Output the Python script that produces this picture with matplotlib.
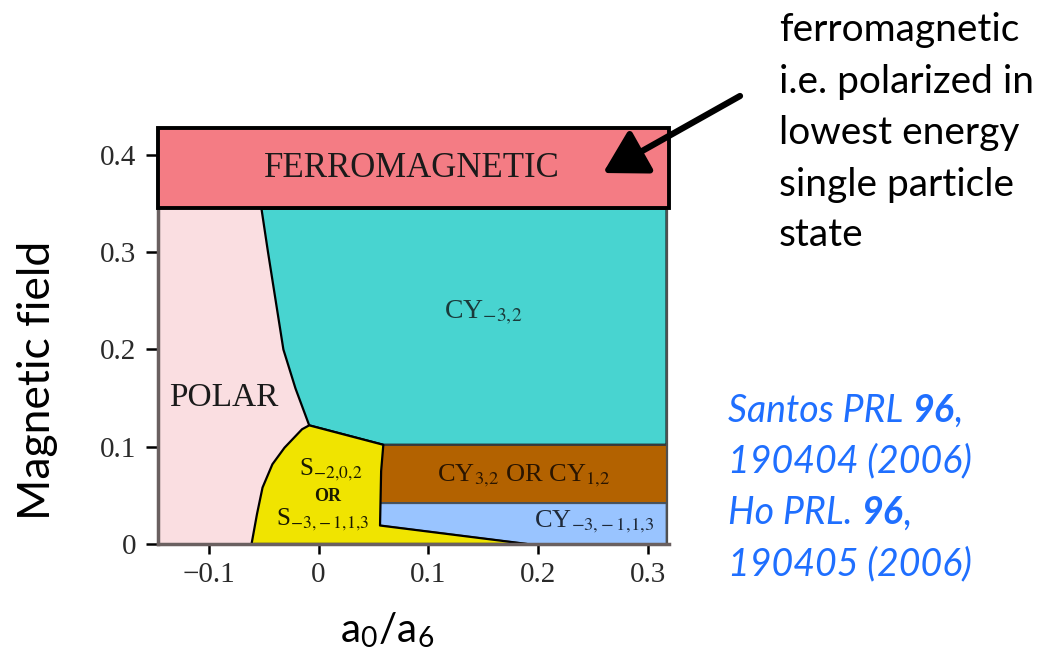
import numpy as np
import matplotlib
matplotlib.use("Agg")
import matplotlib.pyplot as plt
from matplotlib.patches import FancyArrowPatch

# ---- data: phase boundaries (a0/a6, magnetic field) ----
x_ticks = [-0.1, 0.0, 0.1, 0.2, 0.3]
x_ticklabels = ["\u22120.1", "0", "0.1", "0.2", "0.3"]
y_ticks = [0.0, 0.1, 0.2, 0.3, 0.4]
y_ticklabels = ["0", "0.1", "0.2", "0.3", "0.4"]

x_min, x_max = -0.146, 0.319
b_max = 0.428
b_ferro = 0.345          # ferromagnetic above this field
b_brown_top = 0.102
b_brown_bot = 0.042

# polar / CY_-3,2 boundary (top -> bottom)
polar_cy_x = [-0.052, -0.046, -0.039, -0.032, -0.021, -0.0085]
polar_cy_y = [0.345, 0.300, 0.250, 0.200, 0.160, 0.122]
# polar / S boundary (top -> bottom)
polar_s_x = [-0.0085, -0.015, -0.031, -0.042, -0.051, -0.056, -0.061]
polar_s_y = [0.122, 0.118, 0.099, 0.082, 0.058, 0.031, 0.0]
# S right edge (top -> bottom), then thin wedge to the axis
s_right_x = [0.059, 0.057, 0.056, 0.190]
s_right_y = [0.102, 0.075, 0.019, 0.0]
x_right = 0.317

phase_colors = {
    "ferro": "#F47C84",
    "polar": "#FADEE1",
    "cy32": "#48D4D0",
    "s": "#F0E400",
    "brown": "#B36200",
    "blue": "#99C4FF",
}

fig = plt.figure(figsize=(10.61, 6.63), dpi=100)
ax = fig.add_axes([0.1491, 0.1795, 0.4813, 0.6278])
ax.set_xlim(x_min, x_max)
ax.set_ylim(0, b_max)

plt.rcParams["mathtext.fontset"] = "stix"
serif = "Liberation Serif"
edge = dict(edgecolor="black", linewidth=1.6, joinstyle="round")

# polar
px = [x_min, polar_s_x[-1]] + polar_s_x[::-1][1:] + polar_cy_x[::-1][1:] + [x_min]
py = [0.0, polar_s_y[-1]] + polar_s_y[::-1][1:] + polar_cy_y[::-1][1:] + [b_ferro]
ax.fill(px, py, facecolor=phase_colors["polar"], edgecolor="none", zorder=1)

# CY_-3,2
cx = polar_cy_x + [s_right_x[0], x_right, x_right]
cy = polar_cy_y + [s_right_y[0], b_brown_top, b_ferro]
ax.fill(cx, cy, facecolor=phase_colors["cy32"], zorder=2, **edge)

# S region
sx = polar_s_x[::-1] + s_right_x
sy = polar_s_y[::-1] + s_right_y
ax.fill(sx, sy, facecolor=phase_colors["s"], zorder=3, **edge)

# brown band
bx = [s_right_x[1] - 0.001, x_right, x_right, s_right_x[1] - 0.001]
by = [b_brown_bot, b_brown_bot, b_brown_top, b_brown_top]
ax.fill(bx, by, facecolor=phase_colors["brown"], zorder=2,
        edgecolor="#3a3a3a", linewidth=1.4)

# light blue
lx = [s_right_x[2], x_right, x_right, s_right_x[3], s_right_x[2]]
ly = [b_brown_bot, b_brown_bot, 0.0, 0.0, s_right_y[2]]
ax.fill(lx, ly, facecolor=phase_colors["blue"], zorder=2,
        edgecolor="#4a5560", linewidth=1.4)

# ferromagnetic
ax.fill([x_min, x_max, x_max, x_min], [b_ferro, b_ferro, b_max, b_max],
        facecolor=phase_colors["ferro"], edgecolor="black", linewidth=2.8,
        zorder=5, clip_on=False)

# phase labels
ax.text(0.085, 0.386, "FERROMAGNETIC", family=serif, fontsize=25,
        ha="center", va="center", zorder=6, color="#1a1a1a")
ax.text(-0.086, 0.150, "POLAR", family=serif, fontsize=24,
        ha="center", va="center", zorder=6, color="#1a1a1a")
ax.text(0.150, 0.238, r"CY$_{-3,\!2}$", family=serif, fontsize=20,
        ha="center", va="center", zorder=6, color="#1a3a3a")
ax.text(0.187, 0.070, r"CY$_{3,\!2}$ OR CY$_{1,\!2}$", family=serif, fontsize=19,
        ha="center", va="center", zorder=6, color="#2a1500")
ax.text(0.251, 0.023, r"CY$_{-3,\!-1,\!1,\!3}$", family=serif, fontsize=19,
        ha="center", va="center", zorder=6, color="#1f2a3a")
ax.text(0.011, 0.076, r"S$_{-2,\!0,\!2}$", family=serif, fontsize=18,
        ha="center", va="center", zorder=6, color="#1a1a00")
ax.text(0.008, 0.049, "OR", family=serif, fontsize=13, fontweight="bold",
        ha="center", va="center", zorder=6, color="#1a1a00")
ax.text(0.004, 0.025, r"S$_{-3,\!-1,\!1,\!3}$", family=serif, fontsize=18,
        ha="center", va="center", zorder=6, color="#1a1a00")

# axes styling
for side in ["top", "right"]:
    ax.spines[side].set_visible(False)
for side in ["left", "bottom"]:
    ax.spines[side].set_color("#6a6060")
    ax.spines[side].set_linewidth(2.5)
    ax.spines[side].set_zorder(4)
ax.plot([x_right, x_right], [0, b_ferro], color="#505050", lw=1.6, zorder=4)

ax.set_xticks(x_ticks)
ax.set_xticklabels(x_ticklabels)
ax.set_yticks(y_ticks)
ax.set_yticklabels(y_ticklabels)
ax.tick_params(axis="x", direction="out", length=7, width=1.8, pad=6,
               labelsize=21, labelcolor="#2a2a2a")
ax.tick_params(axis="y", direction="out", length=9, width=1.8, pad=7,
               labelsize=21, labelcolor="#2a2a2a")
for lab in ax.get_xticklabels() + ax.get_yticklabels():
    lab.set_family(serif)

# axis titles
sans = "Lato"
fig.text(38 / 1061, 1 - 380 / 663, "Magnetic field", family=sans, fontsize=32,
         rotation=90, ha="center", va="center")
fig.text(387 / 1061, 1 - 630 / 663, r"a$_\mathregular{0}$/a$_\mathregular{6}$",
         family=sans, fontsize=29, ha="center", va="center")

# annotation text and arrow
note_lines = ["ferromagnetic", "i.e. polarized in", "lowest energy",
              "single particle", "state"]
note_y = [30, 82, 133, 185, 235]
for s, yp in zip(note_lines, note_y):
    fig.text(779 / 1061, 1 - yp / 663, s, family=sans, fontsize=28,
             ha="left", va="center")

arr = FancyArrowPatch((740, 663 - 96), (603, 663 - 173), transform=None,
                      arrowstyle="-|>,head_length=1.3,head_width=0.75",
                      mutation_scale=20, lw=4.5, color="black", zorder=10,
                      shrinkA=0, shrinkB=0)
fig.patches.append(arr)

# citations (italic, blue, bold volume number)
cite_color = "#1F6FFF"
cite_lines = [
    [("Santos PRL ", "normal"), ("96", "bold"), (",", "normal")],
    [("190404 (2006)", "normal")],
    [("Ho PRL. ", "normal"), ("96", "bold"), (",", "normal")],
    [("190405 (2006)", "normal")],
]
cite_y = [407, 458, 510, 561]
fig.canvas.draw()
renderer = fig.canvas.get_renderer()
for parts, yp in zip(cite_lines, cite_y):
    xp = 728
    for s, w in parts:
        t = fig.text(xp / 1061, 1 - yp / 663, s, family=sans, fontsize=27,
                     style="italic", fontweight=w, color=cite_color,
                     ha="left", va="center_baseline")
        xp = t.get_window_extent(renderer).x1

fig.savefig("out.png", dpi=100)
